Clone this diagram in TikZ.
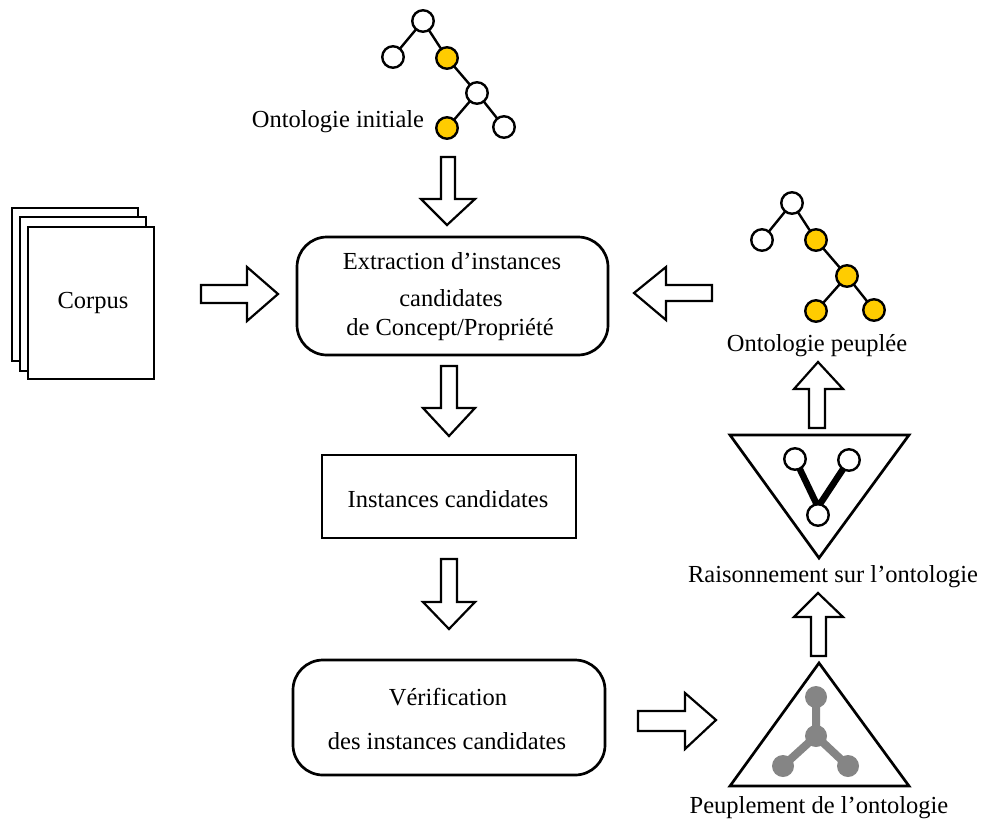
\documentclass[tikz,border=0pt]{standalone}
\usepackage{fontspec}
\setmainfont{Liberation Serif}
\begin{document}
\begin{tikzpicture}[x=1pt,y=-1pt,
  every node/.style={inner sep=0pt,outer sep=0pt},
  shape outline/.style={draw=black,line width=2.7pt,fill=white,line join=miter},
  roundbox/.style={shape outline,rounded corners=30pt},
  blockarrow/.style={draw=black,line width=2.2pt,fill=white,line join=miter},
  onode/.style={circle,draw=black,line width=2.4pt,fill=white,minimum size=21.5pt},
  ynode/.style={onode,fill=ontoyellow},
  gnode/.style={circle,fill=ontogray,minimum size=22pt},
  edge/.style={draw=black,line width=2.4pt},
  thickedge/.style={draw=black,line width=6.5pt,line join=miter},
  gedge/.style={draw=ontogray,line width=8pt},
  lab/.style={anchor=base,font=\fontsize{24.5}{29}\selectfont,text=black}]
\definecolor{ontoyellow}{HTML}{FFCC00}
\definecolor{ontogray}{HTML}{858585}
\useasboundingbox (0,0) rectangle (981,819);
% corpus sheets
\draw[shape outline] (12,208) rectangle (138,361);
\draw[shape outline] (20,217) rectangle (146,371);
\draw[shape outline] (28,227) rectangle (154,379);
\node[lab] (corpus) at (93,308) {Corpus};
% boxes
\draw[roundbox] (297,237) rectangle (608,355);
\node[lab] (ext1) at (452,269) {Extraction d’instances};
\node[lab] (ext2) at (451,306) {candidates};
\node[lab] (ext3) at (450,335) {de Concept/Propriété};
\draw[shape outline] (322,455) rectangle (576,538);
\node[lab] (inst) at (448,507) {Instances candidates};
\draw[roundbox] (293,660) rectangle (605,775);
\node[lab] (ver1) at (448,705) {Vérification};
\node[lab] (ver2) at (447,749) {des instances candidates};
% block arrows
\draw[blockarrow] (441,157)--(455,157)--(455,199)--(475,199)--(447,225)--(421,199)--(441,199)--cycle;
\draw[blockarrow] (441,366)--(457,366)--(457,408)--(475,408)--(449,436)--(423,408)--(441,408)--cycle;
\draw[blockarrow] (441,559)--(457,559)--(457,602)--(475,602)--(449,629)--(423,602)--(441,602)--cycle;
\draw[blockarrow] (201,285)--(247,285)--(247,267)--(278,294)--(247,321)--(247,303)--(201,303)--cycle;
\draw[blockarrow] (712,285)--(666,285)--(666,267)--(634,293)--(666,320)--(666,301)--(712,301)--cycle;
\draw[blockarrow] (638,711)--(685,711)--(685,693)--(716,720)--(685,749)--(685,731)--(638,731)--cycle;
\draw[blockarrow] (809,428)--(809,389)--(794,389)--(818,362)--(843,389)--(825,389)--(825,428)--cycle;
\draw[blockarrow] (811,656)--(811,617)--(794,617)--(818,593)--(843,617)--(826,617)--(826,656)--cycle;
% initial ontology
\node[onode] (a1) at (423,21) {};
\node[onode] (a2) at (393,57) {};
\node[ynode] (a3) at (447,58) {};
\node[onode] (a4) at (477,93) {};
\node[ynode] (a5) at (447,128) {};
\node[onode] (a6) at (504,127) {};
\draw[edge] (a1)--(a2) (a1)--(a3) (a3)--(a4) (a4)--(a5) (a4)--(a6);
\node[lab] (oi) at (338,127) {Ontologie initiale};
% populated ontology
\node[onode] (b1) at (792,203) {};
\node[onode] (b2) at (762,240) {};
\node[ynode] (b3) at (816,240) {};
\node[ynode] (b4) at (847,276) {};
\node[ynode] (b5) at (816,311) {};
\node[ynode] (b6) at (874,310) {};
\draw[edge] (b1)--(b2) (b1)--(b3) (b3)--(b4) (b4)--(b5) (b4)--(b6);
\node[lab] (op) at (817,351) {Ontologie peuplée};
% reasoning
\draw[shape outline] (730,435)--(909,435)--(819,558)--cycle;
\coordinate (cj) at (818,507);
\node[onode] (c1) at (795,459) {};
\node[onode] (c2) at (849,460) {};
\draw[thickedge] (c1)--(cj)--(c2);
\node[onode] (c3) at (818,515) {};
\node[lab] (rs) at (833,582) {Raisonnement sur l’ontologie};
% population
\draw[shape outline] (730,786)--(909,786)--(819,663)--cycle;
\node[gnode] (d1) at (816,697) {};
\node[gnode] (d2) at (816,736) {};
\node[gnode] (d3) at (783,766) {};
\node[gnode] (d4) at (848,766) {};
\draw[gedge] (d1.center)--(d2.center) (d2.center)--(d3.center) (d2.center)--(d4.center);
\node[lab] (pl) at (819,813) {Peuplement de l’ontologie};
\end{tikzpicture}
\end{document}
